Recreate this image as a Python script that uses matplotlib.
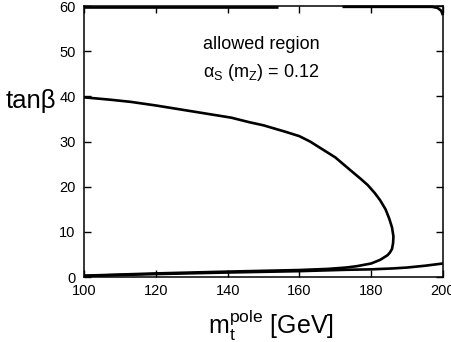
import matplotlib.pyplot as plt

plt.rcParams['font.family'] = ['Liberation Sans', 'DejaVu Sans']
plt.rcParams['mathtext.fontset'] = 'custom'
plt.rcParams['mathtext.rm'] = 'Liberation Sans'
plt.rcParams['mathtext.it'] = 'Liberation Sans:italic'

# upper boundary curve (turns back at the nose near 186 GeV)
upper_mt = [100, 107, 113, 120, 127, 134, 141, 146, 150, 156, 160, 163, 167, 170, 174,
            177, 179, 181, 182.5, 184, 185, 185.8, 186.2, 186.1, 185.8, 185.2, 184.5,
            182.5, 180, 176, 173, 168, 160, 140, 120, 100]
upper_tb = [39.8, 39.3, 38.8, 38.0, 37.1, 36.2, 35.3, 34.3, 33.6, 32.2, 31.2, 30.0,
            28.0, 26.5, 23.8, 21.8, 20.4, 18.6, 17.0, 15.0, 13.0, 11.0, 9.0, 7.5,
            6.2, 5.4, 4.8, 3.8, 3.0, 2.4, 2.1, 1.8, 1.55, 1.2, 0.8, 0.3]

# lower boundary curve
lower_mt = [100, 120, 140, 160, 173, 180, 186, 190, 195, 200]
lower_tb = [0.25, 0.65, 1.0, 1.3, 1.6, 1.7, 1.9, 2.1, 2.5, 3.0]

# top boundary pieces at tan(beta) = 60
top1_mt = [100, 154]
top1_tb = [59.85, 59.85]
top2_mt = [172, 197, 198.5, 199.5, 200]
top2_tb = [59.85, 59.85, 59.6, 59.0, 58.0]

fig = plt.figure(figsize=(4.52, 3.42), dpi=100)
ax = fig.add_axes([0.186, 0.190, 0.794, 0.792])

for xs, ys in [(upper_mt, upper_tb), (lower_mt, lower_tb),
               (top1_mt, top1_tb), (top2_mt, top2_tb)]:
    ax.plot(xs, ys, color='black', lw=1.9, solid_capstyle='butt',
            solid_joinstyle='round', clip_on=False)

ax.set_xlim(100, 200)
ax.set_ylim(0, 60)
ax.set_xticks([100, 120, 140, 160, 180, 200])
ax.set_yticks([0, 10, 20, 30, 40, 50, 60])
ax.tick_params(direction='in', length=5, width=1, top=True, right=True,
               labelsize=10.5)
ax.tick_params(axis='x', pad=5)
ax.tick_params(axis='y', pad=6)
for s in ax.spines.values():
    s.set_linewidth(1.1)

ax.text(0.33, 0.86, 'allowed region', transform=ax.transAxes, fontsize=13,
        ha='left', va='center')
ax.text(0.33, 0.755, r'α$_{\rm S}$ (m$_{\rm Z}$) = 0.12', transform=ax.transAxes,
        fontsize=13, ha='left', va='center')

fig.text(0.6, 0.05, r'm$_{\rm t}^{\rm pole}$ [GeV]', fontsize=18, ha='center', va='center')
fig.text(0.068, 0.705, 'tanβ', fontsize=18.5, ha='center', va='center')

fig.savefig('out.png', dpi=100)
